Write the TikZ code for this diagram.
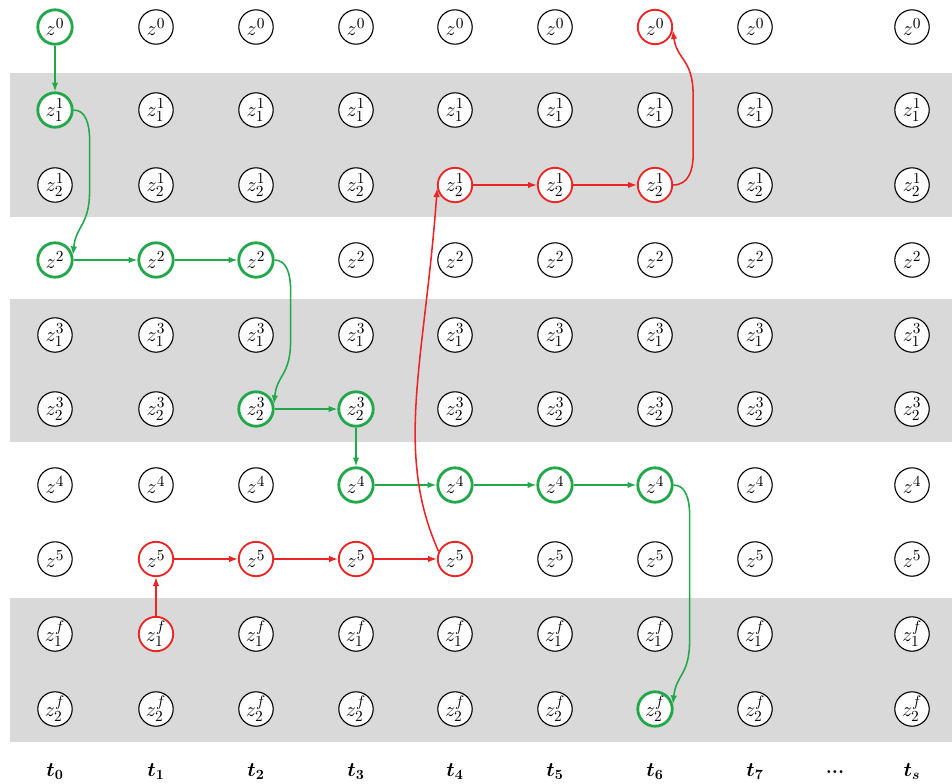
\documentclass[tikz,border=0pt]{standalone}
\usepackage{tikz}
\usetikzlibrary{arrows.meta}
\definecolor{PathGreen}{HTML}{22A84A}
\definecolor{PathRed}{HTML}{EE2424}
\definecolor{BandGray}{HTML}{D9D9D9}

\newcommand{\zlab}[1]{\ifcase#1 $z^{0}$\or $z^{1}_{1}$\or $z^{1}_{2}$\or $z^{2}$\or $z^{3}_{1}$\or $z^{3}_{2}$\or $z^{4}$\or $z^{5}$\or $z^{f}_{1}$\or $z^{f}_{2}$\fi}

% nodes on the two paths
\tikzset{
  greenon/.style={s-#1/.style={gnode}},
  redon/.style={s-#1/.style={rnode}},
  greenon/.list={0-0,1-0,3-0,3-1,3-2,5-2,5-3,6-3,6-4,6-5,6-6,9-6},
  redon/.list={0-6,2-4,2-5,2-6,7-1,7-2,7-3,7-4,8-1}
}

\begin{document}
\begin{tikzpicture}[
  x=0.025cm, y=-0.025cm,
  zn/.style={
    circle, draw=black, line width=0.8pt, fill=white,
    minimum size=0.86cm, inner sep=0pt,
    font=\fontsize{15}{17}\selectfont},
  gnode/.style={zn, draw=PathGreen, line width=2pt},
  rnode/.style={zn, draw=PathRed, line width=1.3pt},
  garr/.style={
    -{Latex[length=2.2mm,width=1.6mm]},
    draw=PathGreen, line width=1.1pt},
  rarr/.style={
    -{Latex[length=2.2mm,width=1.6mm]},
    draw=PathRed, line width=1.1pt},
  tlab/.style={font=\fontsize{14}{16}\selectfont\boldmath},
]
\useasboundingbox (0,0) rectangle (952,783);

% bands
\fill[BandGray] (10,73) rectangle (952,217);
\fill[BandGray] (10,299) rectangle (952,442);
\fill[BandGray] (10,598) rectangle (952,742);

% grid of states
\foreach \y [count=\r from 0] in {27,110,185,260,335,409,485,559,634,709}
  \foreach \x [count=\c from 0] in {55,156,256,356,455,555,655,755,912}
    \node[zn, s-\r-\c/.try] (n-\r-\c) at (\x,\y) {\zlab{\r}};

% time axis
\foreach \x/\t [count=\c from 0] in {55/0,156/1,256/2,356/3,455/4,555/5,655/6,755/7,912/s}
  \node[tlab] (t-\c) at (\x,772) {$t_{\t}$};
\node[tlab] (dots) at (835,772) {\textbf{...}};

% green path
\draw[garr] (n-0-0) -- (n-1-0);
\draw[garr] (n-1-0.east) .. controls +(12,0) and +(0,-16) .. ++(16,30)
  -- ++(0,50) .. controls +(0,36) and +(3,-30) .. (n-3-0.15);
\draw[garr] (n-3-0) -- (n-3-1);
\draw[garr] (n-3-1) -- (n-3-2);
\draw[garr] (n-3-2.east) .. controls +(12,0) and +(0,-16) .. ++(16,30)
  -- ++(0,50) .. controls +(0,36) and +(3,-30) .. (n-5-2.15);
\draw[garr] (n-5-2) -- (n-5-3);
\draw[garr] (n-5-3) -- (n-6-3);
\draw[garr] (n-6-3) -- (n-6-4);
\draw[garr] (n-6-4) -- (n-6-5);
\draw[garr] (n-6-5) -- (n-6-6);
\draw[garr] (n-6-6.east) .. controls +(12,0) and +(0,-16) .. ++(16,30)
  -- ++(0,125) .. controls +(0,36) and +(3,-30) .. (n-9-6.15);

% red path
\draw[rarr] (n-8-1) -- (n-7-1);
\draw[rarr] (n-7-1) -- (n-7-2);
\draw[rarr] (n-7-2) -- (n-7-3);
\draw[rarr] (n-7-3) -- (n-7-4);
\draw[rarr] (n-7-4.155) .. controls +(-45,-100) and +(-12,170) .. (n-2-4.190);
\draw[rarr] (n-2-4) -- (n-2-5);
\draw[rarr] (n-2-5) -- (n-2-6);
\draw[rarr] (n-2-6.east) .. controls +(15,0) and +(0,16) .. ++(20,-30)
  -- ++(0,-60) .. controls +(0,-36) and +(4,30) .. (n-0-6.-10);

\end{tikzpicture}
\end{document}
